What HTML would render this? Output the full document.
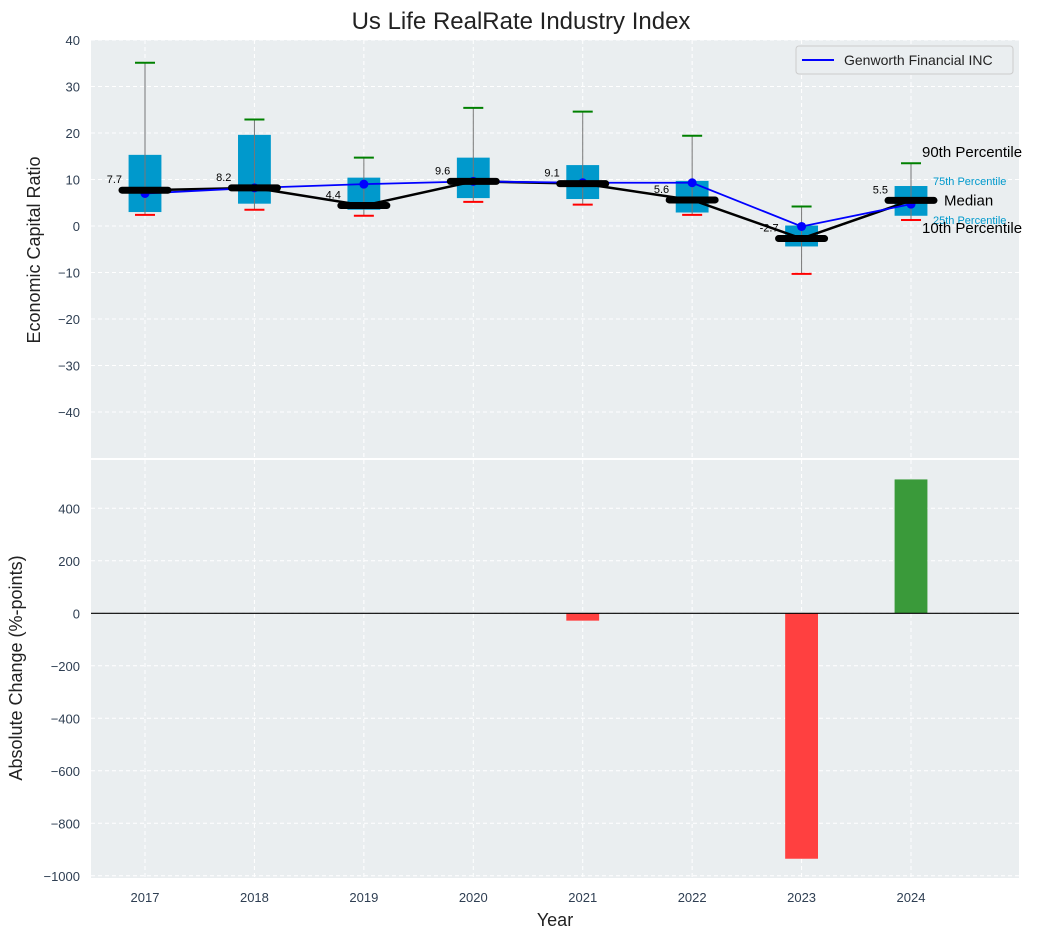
<!DOCTYPE html>
<html><head><meta charset="utf-8"><style>
body{margin:0;background:#fff;font-family:"Liberation Sans",sans-serif}
svg text{font-family:"Liberation Sans",sans-serif}
</style></head><body>
<svg id="c" width="1043" height="940" xmlns="http://www.w3.org/2000/svg">
<rect x="91" y="40" width="928" height="418" fill="#eaeef0"/>
<rect x="91" y="460" width="928" height="418" fill="#eaeef0"/>
<g id="grid"></g><g id="marks"></g>
<text x="521" y="29" text-anchor="middle" font-size="24" fill="#222">Us Life RealRate Industry Index</text>
<text x="555" y="926" text-anchor="middle" font-size="18" fill="#222">Year</text>
<text transform="translate(40,250) rotate(-90)" text-anchor="middle" font-size="18" fill="#222">Economic Capital Ratio</text>
<text transform="translate(22,668) rotate(-90)" text-anchor="middle" font-size="18" fill="#222">Absolute Change (%-points)</text>
<g>
<rect x="796" y="46" width="217" height="28" rx="3" fill="#eaeef0" stroke="#ccc"/>
<line x1="802" y1="60" x2="834" y2="60" stroke="#0000ff" stroke-width="2"/>
<text x="844" y="65" font-size="14" fill="#222">Genworth Financial INC</text>
</g>
</svg>
<script>
const years=[2017,2018,2019,2020,2021,2022,2023,2024];
const p10=[2.4,3.5,2.2,5.2,4.6,2.4,-10.3,1.3];
const p25=[3.0,4.8,3.5,6.0,5.8,2.9,-4.4,2.2];
const median=[7.7,8.2,4.4,9.6,9.1,5.6,-2.7,5.5];
const p75=[15.3,19.6,10.4,14.7,13.1,9.7,0.1,8.6];
const p90=[35.1,22.9,14.7,25.4,24.6,19.4,4.2,13.5];
const company=[7.0,8.2,9.0,9.6,9.3,9.3,-0.1,4.7];
const change=[0,0,0,0,-28,0,-935,510];
const topTicks=[-40,-30,-20,-10,0,10,20,30,40];
const botTicks=[-1000,-800,-600,-400,-200,0,200,400];
const NS="http://www.w3.org/2000/svg";
const X=v=>145+(v-2017)*109.43;
const Y1=v=>226-v*4.65;
const Y2=v=>613.3-v*0.2625;
const g=document.getElementById('grid'),m=document.getElementById('marks');
function el(p,t,a,txt){const e=document.createElementNS(NS,t);for(const k in a)e.setAttribute(k,a[k]);if(txt!==undefined)e.textContent=txt;p.appendChild(e);return e;}
years.forEach(y=>{
 let l=el(g,'line',{x1:X(y),x2:X(y),y1:40,y2:458,stroke:'#fff','stroke-dasharray':'4,3'});
 
 l=el(g,'line',{x1:X(y),x2:X(y),y1:460,y2:878,stroke:'#fff','stroke-dasharray':'4,3'});
 
 const t=el(g,'text',{x:X(y),y:902,'text-anchor':'middle','font-size':13,fill:'#2e3e52'},String(y));
 
});
topTicks.forEach(v=>{
 const l=el(g,'line',{x1:91,x2:1019,y1:Y1(v),y2:Y1(v),stroke:'#fff','stroke-dasharray':'4,3'});
 
 const t=el(g,'text',{x:80,y:Y1(v)+5,'text-anchor':'end','font-size':13,fill:'#2e3e52'},v<0?'\u2212'+(-v):String(v));
 
});
botTicks.forEach(v=>{
 const l=el(g,'line',{x1:91,x2:1019,y1:Y2(v),y2:Y2(v),stroke:'#fff','stroke-dasharray':'4,3'});
 
 const t=el(g,'text',{x:80,y:Y2(v)+5,'text-anchor':'end','font-size':13,fill:'#2e3e52'},v<0?'\u2212'+(-v):String(v));
 
});
const bw=0.3*109.43;
years.forEach((y,i)=>{
 const x=X(y);
 let r=el(m,'rect',{x:x-bw/2,y:Y1(p75[i]),width:bw,height:Y1(p25[i])-Y1(p75[i]),fill:'#0099cc'});
 
 let w=el(m,'line',{x1:x,x2:x,y1:Y1(p90[i]),y2:Y1(p10[i]),stroke:'#777','stroke-width':1});
 
 let c=el(m,'line',{x1:x-10,x2:x+10,y1:Y1(p90[i]),y2:Y1(p90[i]),stroke:'#008000','stroke-width':2});
 
 c=el(m,'line',{x1:x-10,x2:x+10,y1:Y1(p10[i]),y2:Y1(p10[i]),stroke:'#ff0000','stroke-width':2});
 
 const v=change[i];
 if(v!==0){const b=el(m,'rect',{x:x-bw/2,y:Math.min(Y2(v),Y2(0)),width:bw,height:Math.abs(Y2(v)-Y2(0)),fill:v>0?'#3a9a3a':'#ff4040'});
 }
});
let ml=el(m,'polyline',{points:years.map((y,i)=>X(y)+','+Y1(median[i])).join(' '),fill:'none',stroke:'#000','stroke-width':2.5});

let cl=el(m,'polyline',{points:years.map((y,i)=>X(y)+','+Y1(company[i])).join(' '),fill:'none',stroke:'#0000ff','stroke-width':1.8});

years.forEach((y,i)=>{
 const x=X(y);
 const d=el(m,'circle',{cx:x,cy:Y1(company[i]),r:4.5,fill:'#0000ff'});
 
 const md=el(m,'line',{x1:x-23,x2:x+23,y1:Y1(median[i]),y2:Y1(median[i]),stroke:'#000','stroke-width':7,'stroke-linecap':'round'});
 
 const t=el(m,'text',{x:x-23,y:Y1(median[i])-7,'text-anchor':'end','font-size':11,fill:'#000'},median[i].toFixed(1));
 
});
const zl=el(m,'line',{x1:91,x2:1019,y1:Y2(0),y2:Y2(0),stroke:'#000','stroke-width':1.2});

const lx=X(2024),li=7;
[[p90[li],'90th Percentile',11,15,'#000',-6,'p90-annotation'],[p75[li],'75th Percentile',22,11,'#0099cc',-1,'p75-annotation'],[median[li],'Median',33,15,'#000',5,'median-annotation'],[p25[li],'25th Percentile',22,11,'#0099cc',8,'p25-annotation'],[p10[li],'10th Percentile',11,15,'#000',13,'p10-annotation']].forEach(a=>{
 const t=el(m,'text',{x:lx+a[2],y:Y1(a[0])+a[5],'font-size':a[3],fill:a[4]},a[1]);
 
});
</script>
</body></html>
